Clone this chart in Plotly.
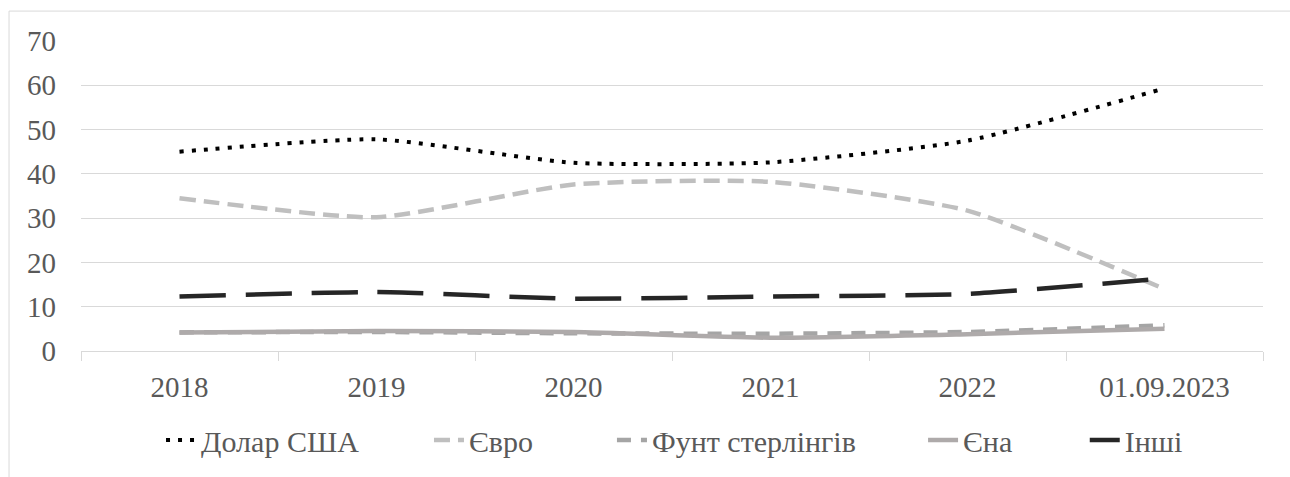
import plotly.graph_objects as go

categories = ["2018", "2019", "2020", "2021", "2022", "01.09.2023"]
usd = [45.0, 47.8, 42.5, 42.6, 47.5, 59.3]
eur = [34.5, 30.2, 37.6, 38.2, 31.7, 14.0]
gbp = [4.2, 4.3, 4.0, 3.9, 4.3, 5.8]
jpy = [4.2, 4.5, 4.3, 3.0, 3.8, 5.0]
other = [12.3, 13.3, 11.8, 12.3, 12.9, 16.4]
y_ticks = [0, 10, 20, 30, 40, 50, 60, 70]

FONT = "Liberation Serif"
TXT = "#595959"
GRID = "#d9d9d9"
FS = 29
LFS = 30

series = [
    ("Долар США", usd, "#000000", 4, "4px,8px", "legend", 0.0677),
    ("Євро", eur, "#bfbfbf", 4.5, "16px,8px", "legend2", 0.2944),
    ("Фунт стерлінгів", gbp, "#a5a5a5", 4.5, "14px,10px", "legend3", 0.4492),
    ("Єна", jpy, "#aeaaaa", 4.5, "solid", "legend4", 0.7124),
    ("Інші", other, "#262626", 4.5, "46px,20px", "legend5", 0.8492),
]

fig = go.Figure()
legends = {}
for name, vals, color, w, dash, leg, lx in series:
    fig.add_trace(go.Scatter(
        x=categories, y=vals, name=name, mode="lines", legend=leg,
        line=dict(color=color, width=w, dash=dash, shape="spline", smoothing=0.55),
    ))
    legends[leg] = dict(x=lx, xanchor="left", y=-0.283, yanchor="middle",
                        orientation="h", bgcolor="rgba(0,0,0,0)",
                        font=dict(family=FONT, size=LFS, color=TXT))

fig.update_layout(
    width=1290, height=477,
    margin=dict(l=81, r=27, t=41, b=125),
    paper_bgcolor="white", plot_bgcolor="white",
    font=dict(family=FONT, color=TXT, size=FS),
    showlegend=True,
    xaxis=dict(type="category", showgrid=False, showline=True, linecolor=GRID, linewidth=1,
               ticks="outside", tickson="boundaries", ticklen=9, tickcolor=GRID,
               tickfont=dict(family=FONT, size=FS, color=TXT), ticklabelstandoff=10,
               range=[-0.5, 5.5]),
    yaxis=dict(range=[0, 70], tickvals=y_ticks, showgrid=True, gridcolor=GRID, gridwidth=1,
               zeroline=False, showline=False, ticks="",
               tickfont=dict(family=FONT, size=FS, color=TXT), ticklabelstandoff=24),
    shapes=[dict(type="rect", xref="paper", yref="paper",
                 x0=-0.0609, x1=1.04, y0=-0.45, y1=1.0965,
                 line=dict(color=GRID, width=1), fillcolor="rgba(0,0,0,0)", layer="below")],
)
fig.update_layout(**legends)

fig.write_html("out.html", config={"displayModeBar": False},
               post_script="document.body.style.margin='0';")
